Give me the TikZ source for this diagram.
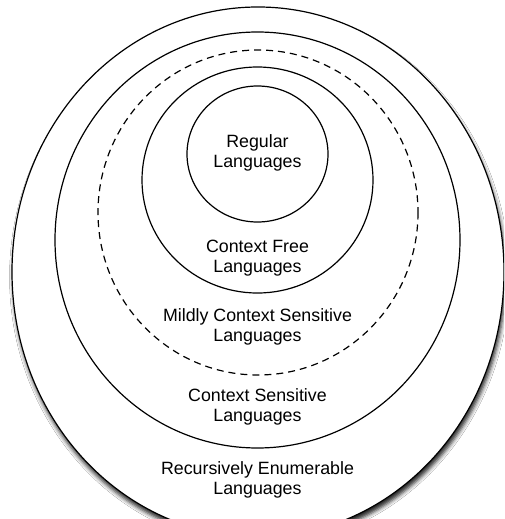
\documentclass[tikz,border=0pt]{standalone}
\usepackage{fontspec}
\setmainfont{Liberation Sans}
\usetikzlibrary{shadows.blur}
\begin{document}
\begin{tikzpicture}[x=1pt,y=-1pt,
  ring/.style={draw=black,line width=1.2pt},
  lbl/.style={align=center,font=\fontsize{17.8}{20}\selectfont,inner sep=0pt}]
\useasboundingbox (0,0) rectangle (504,519);
\fill[white] (0,0) rectangle (504,519);
\begin{scope}
\clip (0,0) rectangle (504,519);
\draw[ring,fill=white,blur shadow={shadow xshift=1.5pt,shadow yshift=-5pt,shadow blur radius=4pt,shadow opacity=85}]
  (258,272) ellipse [x radius=246, y radius=265];
\end{scope}
\draw[ring] (257.5,240) ellipse [x radius=202.5, y radius=208];
\draw[ring,dash pattern=on 7pt off 5pt] (258,212.5) ellipse [x radius=160, y radius=162.5];
\draw[ring] (257.5,180) ellipse [x radius=115.5, y radius=113];
\draw[ring] (257.5,154) ellipse [x radius=70.5, y radius=68];
\node[lbl] (reg) at (257.5,153) {Regular\\Languages};
\node[lbl] (cf) at (257.5,258.5) {Context Free\\Languages};
\node[lbl] (mcs) at (257.5,326.5) {Mildly Context Sensitive\\Languages};
\node[lbl] (cs) at (257.5,406.5) {Context Sensitive\\Languages};
\node[lbl] (re) at (257.5,479.5) {Recursively Enumerable\\Languages};
\end{tikzpicture}
\end{document}
